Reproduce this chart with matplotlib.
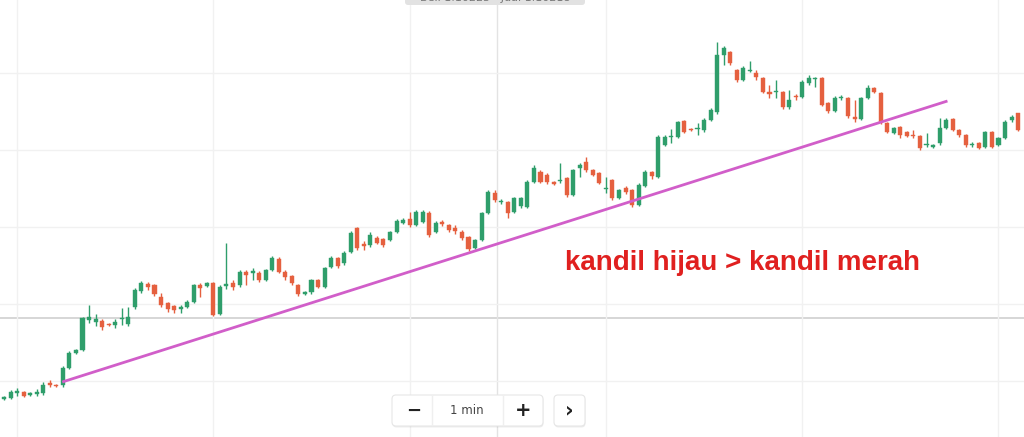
import matplotlib.pyplot as plt
from matplotlib.patches import FancyBboxPatch

"""
Candlestick chart (1 min) with a rising trend line and a note that green
candles outnumber red ones.
"""

# OHLC values of the candles, oldest first (price in chart points)
opens = [38, 39, 44, 45, 42, 43, 44, 54, 52, 52,
         69, 84, 87, 117, 115, 116, 113, 112, 118, 113,
         130, 146, 153, 152, 140, 134, 131, 128, 130, 135,
         152, 151, 154, 123, 151, 154, 152, 165, 164, 164,
         157, 167, 178, 165, 161, 152, 143.5, 145, 157, 150,
         170, 179, 174, 185, 209, 193, 192, 199, 198, 197,
         205, 214, 218, 212, 215, 224, 205, 215, 212, 209,
         205, 200, 189, 197, 224, 244, 235, 235, 225, 231,
         230, 255, 265, 262, 255, 256, 259, 242, 269, 275,
         267, 264, 248, 257, 239, 249, 247, 232, 251, 265,
         260, 292, 300, 300, 316, 308, 308, 307, 317, 325,
         382, 385, 367, 357, 366, 364, 359, 345, 345, 345,
         330, 341, 340, 354, 358, 359, 334, 326, 339, 339,
         320, 318, 339, 349, 344, 314, 304, 310, 305, 302,
         301, 292, 290, 294, 309, 318, 307, 302, 292, 294,
         290, 305, 292, 299, 317, 324]
closes = [40, 45, 46, 41, 44, 45, 52, 52, 51, 69,
          84, 87, 119, 120, 118, 110, 112, 115, 119, 120,
          147, 154, 150, 143, 132, 128, 127, 130, 135, 152,
          149, 154, 122, 150, 153, 150, 165, 162, 166, 157,
          167, 179, 165, 160, 154, 143, 144.5, 157, 150, 169,
          179, 171, 184, 204, 189, 191, 202, 194, 192, 205,
          216, 217, 212, 225, 225, 202, 214, 213, 207, 206,
          199, 188, 197, 224, 245, 237, 236, 224, 239, 239,
          255, 269, 255, 255, 253, 257, 242, 267, 272, 267,
          262, 254, 249, 239, 247, 245, 232, 252, 265, 261,
          300, 300, 301, 315, 305, 307, 309, 317, 327, 382,
          389, 374, 357, 369, 367, 360, 345, 343, 346, 330,
          337, 340, 355, 359, 359, 332, 326, 339, 340, 321,
          318, 339, 349, 345, 315, 305, 309, 302, 301, 301,
          289, 292.5, 292, 309, 317, 307, 302, 292, 292.5, 289,
          305, 290, 299, 315, 320, 307]
highs = [41, 47, 49, 46, 45, 48, 55, 57, 53, 71,
         86, 88, 120, 132, 123, 118, 114, 118, 129, 130,
         149, 156, 155, 153, 144, 135, 132, 132, 137, 153,
         154, 155, 155, 152, 194, 157, 167, 167, 169, 166,
         168, 181, 180, 167, 162, 153, 146, 158, 158, 170,
         181, 180, 186, 206, 210, 196, 205, 201, 199, 206,
         218, 219, 225, 227, 227, 226, 216, 217, 213, 212,
         207, 201, 198, 225, 247, 247, 238, 236, 240, 240,
         257, 272, 267, 264, 256, 274, 260, 268, 274, 280,
         268, 265, 260, 258, 248, 251, 248, 254, 267, 266,
         302, 302, 308, 316, 317, 309, 314, 319, 329, 395,
         391, 386, 368, 371, 376, 367, 360, 352, 357, 346,
         347, 343, 357, 362, 360, 360, 335, 341, 342, 340,
         337, 340, 352, 350, 345, 315, 310, 311, 306, 307,
         302, 304, 293, 319, 319, 319, 308, 303, 295, 295,
         306, 306, 300, 317, 322, 324]
lows = [37, 38, 41, 40, 41, 41, 42, 50, 50, 50,
        68, 83, 86, 114, 111, 107, 111, 109, 112, 111,
        128, 144, 147, 141, 130, 125, 124, 124, 129, 134,
        140, 150, 121, 122, 148, 147, 150, 152, 157, 155,
        156, 166, 164, 157, 152, 141, 142, 143, 149, 149,
        169, 169, 172, 184, 187, 187, 190, 193, 190, 196,
        204, 213, 210, 211, 214, 200, 204, 211, 205, 203,
        197, 186, 188, 196, 223, 235, 233, 219, 224, 229,
        229, 254, 254, 253, 252, 254, 240, 241, 260, 265,
        261, 253, 244, 237, 238, 243, 230, 231, 250, 258,
        259, 291, 294, 299, 304, 306, 302, 305, 316, 323,
        372, 372, 355, 356, 365, 357, 344, 339, 339, 328,
        328, 337, 339, 352, 350, 331, 324, 325, 337, 319,
        315, 317, 338, 344, 313, 304, 303, 299, 300, 299,
        287, 290, 289, 292, 308, 306, 300, 290, 290, 288,
        289, 289, 291, 298, 315, 306]

# trend line drawn under the lows (candle index, price)
trend_x = [8.9, 144.2]
trend_y = [55, 336]

# crosshair position (candle index, price)
cross_x = 75.4
cross_y = 119

label = "kandil hijau > kandil merah"
timeframe = "1 min"

GREEN = '#2f9e6b'
RED = '#e5603f'


def draw_candles(ax):
    """Draws wicks and bodies of every candle."""
    for i in range(len(opens)):
        o, c, h, l = opens[i], closes[i], highs[i], lows[i]
        color = GREEN if c >= o else RED
        ax.vlines(i, l, h, color=color, linewidth=1.0, zorder=3)
        bottom = min(o, c)
        height = max(abs(c - o), 1.3)
        ax.bar(i, height, bottom=bottom, width=0.62, color=color,
               edgecolor=color, linewidth=0.3, zorder=4)


def draw_toolbar(ui):
    """Zoom toolbar at the bottom centre and the cut-off header on top."""
    boxes = [(392, 395, 151, 31), (554, 395, 31, 31)]
    for x, y, w, h in boxes:
        shadow = FancyBboxPatch((x + 0.5, y + 1.5), w, h,
                                boxstyle="round,pad=0,rounding_size=4",
                                fc='#000000', ec='none', alpha=0.07, zorder=1)
        ui.add_patch(shadow)
        box = FancyBboxPatch((x, y), w, h,
                             boxstyle="round,pad=0,rounding_size=4",
                             fc='white', ec='#e6e6e6', lw=0.8, zorder=2)
        ui.add_patch(box)
    for xd in [432, 503]:
        ui.plot([xd, xd], [396, 425], color='#efefef', lw=1, zorder=3)
    ui.text(414, 410.5, "\u2212", ha='center', va='center', fontsize=13,
            fontweight='bold', color='#222222', zorder=4)
    ui.text(467, 411, timeframe, ha='center', va='center', fontsize=8.5,
            color='#444444', zorder=4)
    ui.text(523, 410.5, "+", ha='center', va='center', fontsize=14,
            fontweight='bold', color='#222222', zorder=4)
    ui.text(569, 410, "\u203A", ha='center', va='center', fontsize=15,
            fontweight='bold', color='#222222', zorder=4)

    # header pill, mostly outside the picture (cut off as in the screenshot)
    head = FancyBboxPatch((405, -12), 180, 17,
                          boxstyle="round,pad=0,rounding_size=3",
                          fc='#e2e2e2', ec='none', zorder=2)
    ui.add_patch(head)
    ui.text(495, 3, "Beli 1.10225 \u00b7 Jual 1.10218", ha='center',
            va='bottom', fontsize=8, color='#777777', zorder=3)
    ui.text(1, 2, "1.1041", ha='left', va='bottom', fontsize=7,
            color='#aaaaaa', zorder=3)


def plot_chart():
    fig = plt.figure(figsize=(10.24, 4.37), dpi=100)
    fig.patch.set_facecolor('white')

    ax = fig.add_axes([0, 0, 1, 1])
    ax.set_xlim(-0.61, 155.9)
    ax.set_ylim(0, 437)
    ax.set_xticks([2, 32, 62, 92, 122, 152])
    ax.set_yticks([56, 133, 210, 287, 364])
    ax.grid(True, color='#f1f1f1', linewidth=1.0, zorder=0)
    ax.tick_params(length=0, labelbottom=False, labelleft=False)
    for s in ax.spines.values():
        s.set_visible(False)

    # crosshair
    ax.axhline(cross_y, color='#cfcfcf', linewidth=1.2, zorder=1)
    ax.axvline(cross_x, color='#e3e3e3', linewidth=1.0, zorder=1)

    draw_candles(ax)
    ax.plot(trend_x, trend_y, color='#d15ec9', linewidth=2.0,
            solid_capstyle='butt', zorder=5)

    fig.text(565 / 1024, 167 / 437, label, ha='left', va='baseline',
             fontsize=20, fontweight='bold', color='#e0201f',
             family=['Liberation Sans', 'DejaVu Sans'])

    ui = fig.add_axes([0, 0, 1, 1], zorder=5)
    ui.set_xlim(0, 1024)
    ui.set_ylim(437, 0)
    ui.axis('off')
    ui.patch.set_alpha(0)
    draw_toolbar(ui)

    fig.savefig('out.png', dpi=100)


if __name__ == '__main__':
    plot_chart()
